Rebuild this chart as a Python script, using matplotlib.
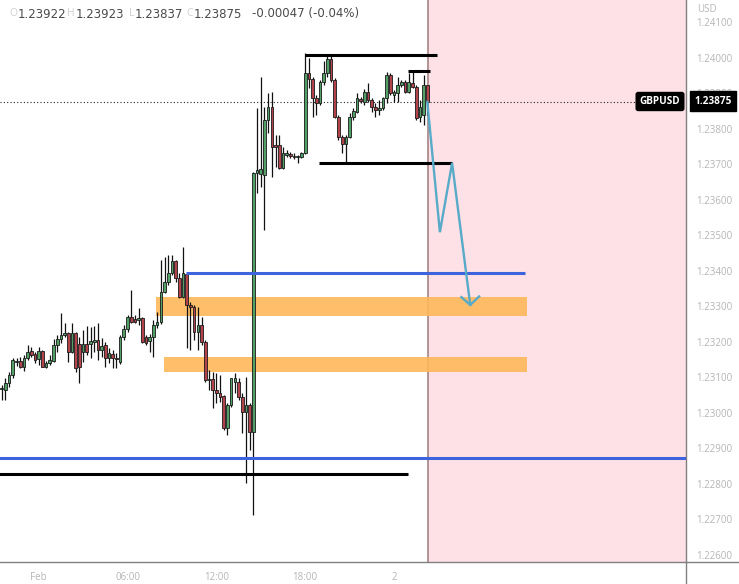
import matplotlib
matplotlib.use('Agg')
import matplotlib.pyplot as plt
from matplotlib.patches import Rectangle
from matplotlib.lines import Line2D
import numpy as np
import pandas as pd

# ---------------- data ----------------
times = pd.date_range('2021-01-31 21:30', periods=116, freq='15min')

opens = [
    1.23066, 1.23063, 1.23083, 1.23106, 1.23142, 1.23145, 1.23128, 1.23153, 1.23173, 1.23165,
    1.23151, 1.23173, 1.23128, 1.23139, 1.23145, 1.23190, 1.23207, 1.23218, 1.23224, 1.23170,
    1.23224, 1.23193, 1.23170, 1.23193, 1.23193, 1.23199, 1.23204, 1.23176, 1.23190, 1.23153,
    1.23165, 1.23153, 1.23142, 1.23213, 1.23235, 1.23269, 1.23263, 1.23261, 1.23266, 1.23213,
    1.23201, 1.23213, 1.23246, 1.23255, 1.23339, 1.23368, 1.23393, 1.23427, 1.23379, 1.23325,
    1.23390, 1.23303, 1.23297, 1.23227, 1.23246, 1.23199, 1.23092, 1.23094, 1.23063, 1.23055,
    1.23047, 1.22956, 1.23021, 1.23086, 1.23086, 1.23044, 1.23001, 1.23021, 1.22945, 1.23675,
    1.23672, 1.23669, 1.23824, 1.23861, 1.23754, 1.23754, 1.23689, 1.23725, 1.23728, 1.23723,
    1.23720, 1.23720, 1.23731, 1.23956, 1.23939, 1.23886, 1.23872, 1.23931, 1.23956, 1.23996,
    1.23937, 1.23832, 1.23776, 1.23756, 1.23776, 1.23832, 1.23846, 1.23883, 1.23875, 1.23903,
    1.23880, 1.23861, 1.23852, 1.23858, 1.23886, 1.23951, 1.23894, 1.23900, 1.23923, 1.23931,
    1.23903, 1.23928, 1.23917, 1.23832, 1.23838, 1.23922,
]
highs = [
    1.23078, 1.23097, 1.23114, 1.23153, 1.23153, 1.23156, 1.23162, 1.23190, 1.23184, 1.23170,
    1.23184, 1.23176, 1.23145, 1.23162, 1.23207, 1.23218, 1.23280, 1.23252, 1.23227, 1.23252,
    1.23227, 1.23213, 1.23232, 1.23244, 1.23241, 1.23244, 1.23252, 1.23210, 1.23199, 1.23182,
    1.23176, 1.23168, 1.23218, 1.23246, 1.23275, 1.23345, 1.23275, 1.23294, 1.23269, 1.23218,
    1.23221, 1.23261, 1.23283, 1.23430, 1.23438, 1.23444, 1.23444, 1.23430, 1.23393, 1.23466,
    1.23393, 1.23311, 1.23303, 1.23297, 1.23269, 1.23204, 1.23120, 1.23114, 1.23111, 1.23106,
    1.23049, 1.23027, 1.23097, 1.23111, 1.23097, 1.23055, 1.23100, 1.23027, 1.23678, 1.23858,
    1.23945, 1.23861, 1.23900, 1.23903, 1.23782, 1.23782, 1.23748, 1.23739, 1.23734, 1.23731,
    1.23725, 1.23734, 1.24013, 1.23999, 1.23945, 1.23894, 1.23937, 1.23990, 1.24007, 1.24007,
    1.23942, 1.23838, 1.23782, 1.23782, 1.23844, 1.23858, 1.23900, 1.23889, 1.23911, 1.23928,
    1.23886, 1.23872, 1.23880, 1.23889, 1.23959, 1.23956, 1.23908, 1.23945, 1.23937, 1.23937,
    1.23956, 1.23965, 1.23923, 1.23880, 1.23951, 1.23923,
]
lows = [
    1.23035, 1.23035, 1.23072, 1.23097, 1.23131, 1.23125, 1.23117, 1.23148, 1.23156, 1.23139,
    1.23134, 1.23128, 1.23125, 1.23134, 1.23142, 1.23170, 1.23196, 1.23213, 1.23142, 1.23168,
    1.23114, 1.23083, 1.23142, 1.23162, 1.23153, 1.23170, 1.23148, 1.23156, 1.23128, 1.23139,
    1.23125, 1.23125, 1.23137, 1.23204, 1.23227, 1.23252, 1.23252, 1.23246, 1.23196, 1.23190,
    1.23170, 1.23156, 1.23238, 1.23249, 1.23337, 1.23359, 1.23387, 1.23368, 1.23323, 1.23323,
    1.23182, 1.23176, 1.23204, 1.23176, 1.23190, 1.23086, 1.23063, 1.23013, 1.23027, 1.23030,
    1.22951, 1.22937, 1.23016, 1.23055, 1.23035, 1.22942, 1.22801, 1.22894, 1.22711, 1.23618,
    1.23635, 1.23514, 1.23787, 1.23663, 1.23692, 1.23686, 1.23686, 1.23720, 1.23717, 1.23714,
    1.23703, 1.23717, 1.23728, 1.23914, 1.23832, 1.23838, 1.23866, 1.23923, 1.23945, 1.23931,
    1.23830, 1.23768, 1.23731, 1.23703, 1.23773, 1.23824, 1.23844, 1.23872, 1.23866, 1.23875,
    1.23846, 1.23832, 1.23838, 1.23852, 1.23872, 1.23894, 1.23875, 1.23875, 1.23917, 1.23900,
    1.23900, 1.23914, 1.23824, 1.23818, 1.23810, 1.23837,
]
closes = [
    1.23069, 1.23083, 1.23106, 1.23148, 1.23145, 1.23128, 1.23153, 1.23170, 1.23162, 1.23148,
    1.23173, 1.23128, 1.23139, 1.23148, 1.23190, 1.23207, 1.23218, 1.23224, 1.23170, 1.23224,
    1.23125, 1.23128, 1.23193, 1.23170, 1.23201, 1.23204, 1.23176, 1.23187, 1.23153, 1.23168,
    1.23153, 1.23151, 1.23213, 1.23235, 1.23269, 1.23255, 1.23255, 1.23266, 1.23199, 1.23196,
    1.23213, 1.23246, 1.23255, 1.23339, 1.23368, 1.23393, 1.23427, 1.23379, 1.23325, 1.23393,
    1.23303, 1.23297, 1.23227, 1.23246, 1.23199, 1.23092, 1.23094, 1.23063, 1.23055, 1.23044,
    1.22956, 1.23021, 1.23097, 1.23097, 1.23044, 1.23001, 1.23021, 1.22945, 1.23675, 1.23683,
    1.23686, 1.23824, 1.23861, 1.23748, 1.23748, 1.23689, 1.23731, 1.23731, 1.23723, 1.23720,
    1.23723, 1.23731, 1.23956, 1.23939, 1.23886, 1.23872, 1.23931, 1.23956, 1.23996, 1.23937,
    1.23832, 1.23776, 1.23756, 1.23776, 1.23832, 1.23849, 1.23886, 1.23877, 1.23903, 1.23880,
    1.23861, 1.23852, 1.23858, 1.23886, 1.23951, 1.23900, 1.23903, 1.23923, 1.23931, 1.23903,
    1.23931, 1.23917, 1.23830, 1.23861, 1.23923, 1.23875,
]

x_tick_times = ['2021-02-01 00:00', '2021-02-01 06:00', '2021-02-01 12:00',
                '2021-02-01 18:00', '2021-02-02 00:00']
x_tick_labels = ['Feb', '06:00', '12:00', '18:00', '2']
y_ticks = [1.226, 1.227, 1.228, 1.229, 1.230, 1.231, 1.232, 1.233,
           1.234, 1.235, 1.236, 1.237, 1.238, 1.239, 1.240, 1.241]

# drawn levels (price, start index, end index)
black_levels = [(1.24008, 82.0, 117.6), (1.23962, 109.8, 115.8),
                (1.23703, 85.8, 121.7), (1.22827, -1.0, 109.8)]
blue_levels = [(1.23393, 49.8, 141.4), (1.22872, -1.0, 190.0)]
orange_zones = [(1.23272, 1.23325, 41.7, 141.9), (1.23114, 1.23156, 43.9, 141.9)]
forecast_start = 115.2
path_x = [115.0, 118.4, 121.7, 126.6]
path_y = [1.23875, 1.23508, 1.23703, 1.23303]
head_x = [124.2, 126.6, 129.0]
head_y = [1.23325, 1.23303, 1.23327]

symbol = 'GBPUSD'
last_price = closes[-1]
ohlc_header = [('O', '1.23922'), ('H', '1.23923'), ('L', '1.23837'), ('C', '1.23875')]
change_text = '-0.00047 (-0.04%)'

# ---------------- figure ----------------
W, H = 739, 584
fig = plt.figure(figsize=(W / 100, H / 100), dpi=100)
fig.patch.set_facecolor('white')
ax_right_px, ax_bottom_px = 686, 562
ax = fig.add_axes([0, (H - ax_bottom_px) / H, ax_right_px / W, ax_bottom_px / H])
ax.set_facecolor('white')

xlim = (-0.46, 184.9)
ylim = (1.22579, 1.24162)
ax.set_xlim(*xlim)
ax.set_ylim(*ylim)

idx = np.arange(len(opens))
o = np.array(opens); h = np.array(highs); l = np.array(lows); c = np.array(closes)

# forecast area
ax.axvspan(forecast_start, xlim[1] + 5, color='#fde1e6', zorder=0, lw=0)
ax.axvline(forecast_start, color='#a58484', lw=1.2, zorder=1)

# orange zones
for lo, hi, x0, x1 in orange_zones:
    ax.add_patch(Rectangle((x0, lo), x1 - x0, hi - lo, facecolor='#ffb85a',
                           edgecolor='none', alpha=0.9, zorder=2))

# candles
up = c >= o
ax.vlines(idx, l, h, color='#111111', lw=0.9, zorder=3)
body_lo = np.minimum(o, c)
body_h = np.maximum(np.abs(c - o), 0.00003)
ax.bar(idx[up], body_h[up], bottom=body_lo[up], width=0.72,
       color='#52a065', edgecolor='#1a1a1a', linewidth=0.6, zorder=4)
ax.bar(idx[~up], body_h[~up], bottom=body_lo[~up], width=0.72,
       color='#b3434a', edgecolor='#1a1a1a', linewidth=0.6, zorder=4)

# levels
for p, x0, x1 in blue_levels:
    ax.plot([x0, x1], [p, p], color='#3d63dd', lw=2.2, zorder=5, solid_capstyle='butt')
for p, x0, x1 in black_levels:
    ax.plot([x0, x1], [p, p], color='#000000', lw=2.2, zorder=5, solid_capstyle='butt')

# current price dotted line
ax.plot([xlim[0], 171.8], [last_price, last_price], color='#222222', lw=0.8,
        ls=(0, (1, 2)), zorder=2)

# forecast path
ax.plot(path_x, path_y, color='#58aac9', lw=1.7, zorder=6, solid_joinstyle='miter')
ax.plot(head_x, head_y, color='#58aac9', lw=1.7, zorder=6)

# axes styling
for s in ['top', 'left']:
    ax.spines[s].set_visible(False)
for s in ['right', 'bottom']:
    ax.spines[s].set_color('#808080')
    ax.spines[s].set_linewidth(1.0)

ax.yaxis.tick_right()
ax.set_yticks(y_ticks)
ax.set_yticklabels([f'{v:.5f}' for v in y_ticks])
tick_pos = [int(np.where(times == pd.Timestamp(t))[0][0]) for t in x_tick_times]
ax.set_xticks(tick_pos)
ax.set_xticklabels(x_tick_labels)
ax.tick_params(axis='y', length=0, pad=7.5, labelsize=7, labelcolor='#b5b5b5')
ax.tick_params(axis='x', length=0, pad=7, labelsize=7, labelcolor='#b5b5b5')
for lab in ax.get_yticklabels() + ax.get_xticklabels():
    lab.set_fontfamily('Open Sans')

# extend spines across the axis areas
fig.add_artist(Line2D([ax_right_px / W, 1], [(H - ax_bottom_px) / H] * 2,
                      transform=fig.transFigure, color='#808080', lw=1.0))
fig.add_artist(Line2D([ax_right_px / W] * 2, [0, (H - ax_bottom_px) / H],
                      transform=fig.transFigure, color='#808080', lw=1.0))

# USD label
fig.text(697 / W, 1 - 9 / H, 'USD', fontsize=7, color='#b5b5b5', ha='left', va='center',
         family='Open Sans', bbox=dict(facecolor='white', edgecolor='none', pad=2.0))

# price tags
fig.text(660 / W, 1 - 101.5 / H, symbol, fontsize=7.2, color='white', ha='center',
         va='center', fontweight='bold', family='Open Sans',
         bbox=dict(boxstyle='round,pad=0.35,rounding_size=0.2', facecolor='black',
                   edgecolor='black'))
fig.text(713 / W, 1 - 101.5 / H, f'{last_price:.5f}', fontsize=7.2, color='white',
         ha='center', va='center', fontweight='bold', family='Open Sans',
         bbox=dict(boxstyle='square,pad=0.45', facecolor='black', edgecolor='black'))

# header OHLC
value_x = [18, 76, 135, 194]
for (lt, val), vx in zip(ohlc_header, value_x):
    fig.text((vx - 1) / W, 1 - 14 / H, lt, fontsize=7.5, color='#d0d0d0', ha='right',
             va='center', family='Open Sans')
    fig.text(vx / W, 1 - 14 / H, val, fontsize=8.5, color='#4a4a4a', ha='left',
             va='center')
fig.text(252 / W, 1 - 14 / H, change_text, fontsize=8.5, color='#4a4a4a', ha='left',
         va='center')

fig.savefig('out.png', dpi=100, facecolor='white')
